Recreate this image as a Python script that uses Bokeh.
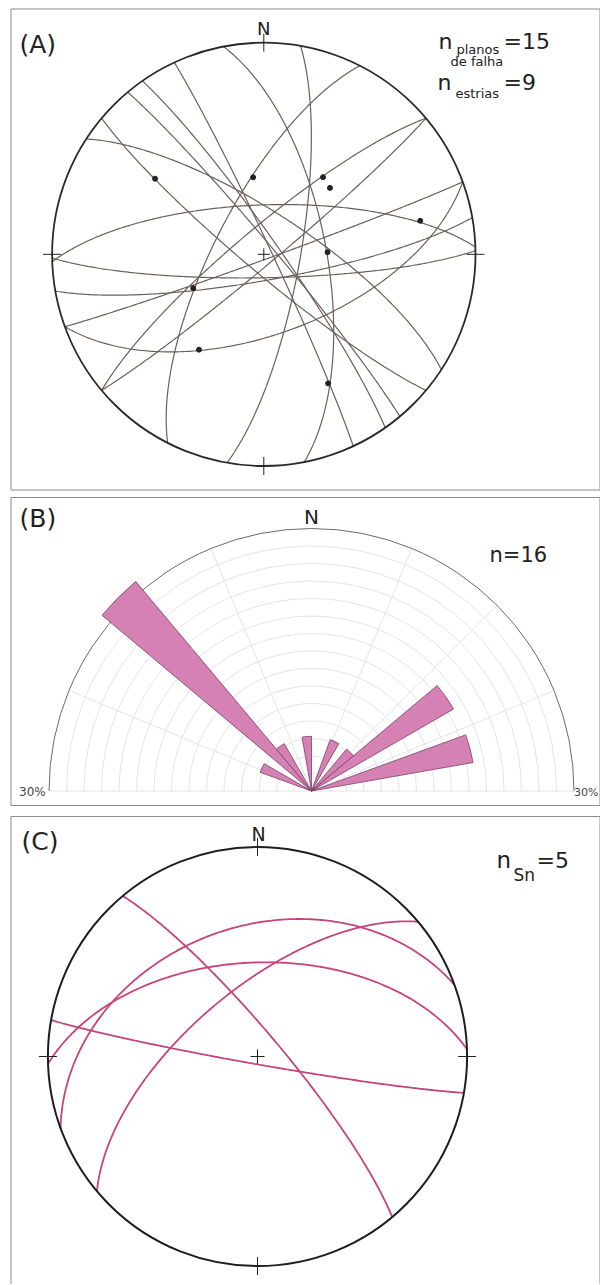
import numpy as np
from bokeh.plotting import figure
from bokeh.layouts import column
from bokeh.models import Label, ColumnDataSource
from bokeh.embed import file_html
from bokeh.resources import INLINE

# ---------------- data ----------------
# Panel A: fault planes (strike, right-hand rule / dip) and striae (trend / plunge)
A_strike = [349, 335, 325, 320, 130, 303, 10, 207, 50, 230, 70, 70, 80, 268, 89]
A_dip = [66, 87, 84, 86, 83, 74, 76, 71, 86, 80, 88, 59, 80, 71, 81]
A_lin_trend = [304.8, 352.1, 37.5, 44.9, 77.9, 88.1, 244.3, 214.2, 153.5]
A_lin_plunge = [37.5, 59.9, 52.1, 53.5, 25.4, 65.4, 59.7, 44.7, 32.4]

# Panel B: rose diagram (10 degree bins, counts), n = 16
B_bin_start = [290, 310, 320, 350, 20, 40, 50, 70]
B_count = [1, 5, 1, 1, 1, 1, 3, 3]
B_total = 16
B_bin_width = 10
B_max_pct = 30
B_ring_step = 2
B_radial_az = [-90, -67.5, -45, -22.5, 22.5, 45, 67.5, 90]

# Panel C: Sn planes (strike RHR / dip)
C_strike = [320, 100, 230, 250, 268]
C_dip = [81, 87, 64, 38, 53]

FONT = "DejaVu Sans"
PAGE_L, PAGE_R = 0, 600
W = PAGE_R - PAGE_L
FRAME_COLOR = "#8c8c8c"


def great_circle(strike, dip, n=241):
    s = np.radians(strike)
    d = np.radians(dip)
    th = np.linspace(0, np.pi, n)
    S = np.array([np.sin(s), np.cos(s), 0.0])
    dd = s + np.pi / 2
    D = np.array([np.sin(dd) * np.cos(d), np.cos(dd) * np.cos(d), np.sin(d)])
    L = np.outer(np.cos(th), S) + np.outer(np.sin(th), D)
    plunge = np.arcsin(np.clip(L[:, 2], -1, 1))
    trend = np.arctan2(L[:, 0], L[:, 1])
    r = np.sqrt(2) * np.sin((np.pi / 2 - plunge) / 2)
    return (r * np.sin(trend)).tolist(), (r * np.cos(trend)).tolist()


def lineation_xy(trend, plunge):
    t = np.radians(np.asarray(trend))
    pl = np.radians(np.asarray(plunge))
    r = np.sqrt(2) * np.sin((np.pi / 2 - pl) / 2)
    return (r * np.sin(t)).tolist(), (r * np.cos(t)).tolist()


class Panel:
    def __init__(self, top, height, cx, cy, k):
        self.top, self.height, self.cx, self.cy, self.k = top, height, cx, cy, k
        p = figure(width=W, height=height, output_backend="svg", toolbar_location=None,
                   x_range=((PAGE_L - cx) / k, (PAGE_R - cx) / k),
                   y_range=((cy - (top + height)) / k, (cy - top) / k),
                   min_border=0, x_axis_type=None, y_axis_type=None)
        p.outline_line_color = None
        p.background_fill_color = "white"
        p.border_fill_color = "white"
        self.p = p

    def X(self, px):
        return (px - self.cx) / self.k

    def Y(self, py):
        return (self.cy - py) / self.k

    def label(self, px, py, text, size, align="left", color="#222222"):
        self.p.add_layout(Label(x=self.X(px), y=self.Y(py), text=text, text_font=FONT,
                                text_font_size=f"{size}px", text_align=align,
                                text_baseline="alphabetic", text_color=color))

    def frame(self, y0, y1, closed=True):
        xs = [self.X(10.5), self.X(10.5), self.X(599.5), self.X(599.5)]
        ys = [self.Y(y1), self.Y(y0), self.Y(y0), self.Y(y1)]
        if closed:
            xs.append(self.X(10.5))
            ys.append(self.Y(y1))
        self.p.line(xs, ys, line_color=FRAME_COLOR, line_width=1)


def stereonet_base(pan, prim_color, prim_width, tick_px, cross_px):
    p = pan.p
    k = pan.k
    t = tick_px / k
    c = cross_px / k
    p.circle(x=0, y=0, radius=1, fill_color=None, line_color=prim_color, line_width=prim_width)
    p.segment(x0=[0, 0, -1 - t, 1 - t, -c, 0], y0=[1 - t, -1 - t, 0, 0, 0, -c],
              x1=[0, 0, -1 + t, 1 + t, c, 0], y1=[1 + t, -1 + t, 0, 0, 0, c],
              line_color="#222222", line_width=1)


# ---------------- Panel A ----------------
A = Panel(top=0, height=492, cx=263.3, cy=253.8, k=211.7)
A.frame(8.5, 489.5)
xsA, ysA = [], []
for s, d in zip(A_strike, A_dip):
    gx, gy = great_circle(s, d)
    xsA.append(gx)
    ysA.append(gy)
A.p.multi_line(xs=xsA, ys=ysA, line_color="#6a6059", line_width=1.2)
stereonet_base(A, "#2a2a2a", 1.8, 9, 6)
lx, ly = lineation_xy(A_lin_trend, A_lin_plunge)
A.p.scatter(x=lx, y=ly, size=5, color="#222222")
A.label(19, 44, "(A)", 25)
A.label(263.3, 28, "N", 18, align="center")
A.label(438, 40.5, "n", 22)
A.label(456, 49, "planos", 13)
A.label(450, 61, "de falha", 13)
A.label(503, 40.5, "=15", 22)
A.label(437, 82, "n", 22)
A.label(455, 93, "estrias", 13)
A.label(503, 82, "=9", 22)

# ---------------- Panel B ----------------
B = Panel(top=492, height=316, cx=311, cy=790.5, k=262.5 / B_max_pct)
B.frame(497, 805)
rings = list(range(B_ring_step, B_max_pct, B_ring_step))
B.p.arc(x=0, y=0, radius=rings, start_angle=0, end_angle=np.pi,
        line_color="#e4e4e4", line_width=1)
az = np.radians(B_radial_az)
B.p.segment(x0=0, y0=0, x1=(B_max_pct * np.sin(az)).tolist(), y1=(B_max_pct * np.cos(az)).tolist(),
            line_color="#e4e4e4", line_width=1)
B.p.arc(x=0, y=0, radius=B_max_pct, start_angle=0, end_angle=np.pi,
        line_color="#6a6a6a", line_width=1)
pct = [c / B_total * 100 for c in B_count]
src = ColumnDataSource(dict(
    r=pct,
    start=[np.radians(90 - (b + B_bin_width)) for b in B_bin_start],
    end=[np.radians(90 - b) for b in B_bin_start],
))
B.p.wedge(x=0, y=0, radius="r", start_angle="start", end_angle="end", source=src,
          fill_color="#d681b4", line_color="#7a3f65", line_width=0.8)
B.label(19, 518, "(B)", 25)
B.label(311, 516, "N", 20, align="center")
B.label(489, 554.5, "n=16", 21)
B.label(18.5, 791, "30%", 12, color="#444444")
B.label(598, 792, "30%", 11, align="right", color="#444444")

# ---------------- Panel C ----------------
C = Panel(top=808, height=476, cx=257, cy=1056, k=209.6)
C.frame(816, 1300, closed=False)
xsC, ysC = [], []
for s, d in zip(C_strike, C_dip):
    gx, gy = great_circle(s, d)
    xsC.append(gx)
    ysC.append(gy)
C.p.multi_line(xs=xsC, ys=ysC, line_color="#c4447f", line_width=1.8)
stereonet_base(C, "#1e1e1e", 2.0, 9, 7)
C.label(21, 841, "(C)", 25)
C.label(258, 833, "N", 19, align="center")
C.label(496, 859.5, "n", 23)
C.label(513, 874.5, "Sn", 17)
C.label(536, 859.5, "=5", 22)

layout = column(A.p, B.p, C.p, spacing=0)
open("out.html", "w").write(file_html(layout, INLINE, title="Estereogramas"))
